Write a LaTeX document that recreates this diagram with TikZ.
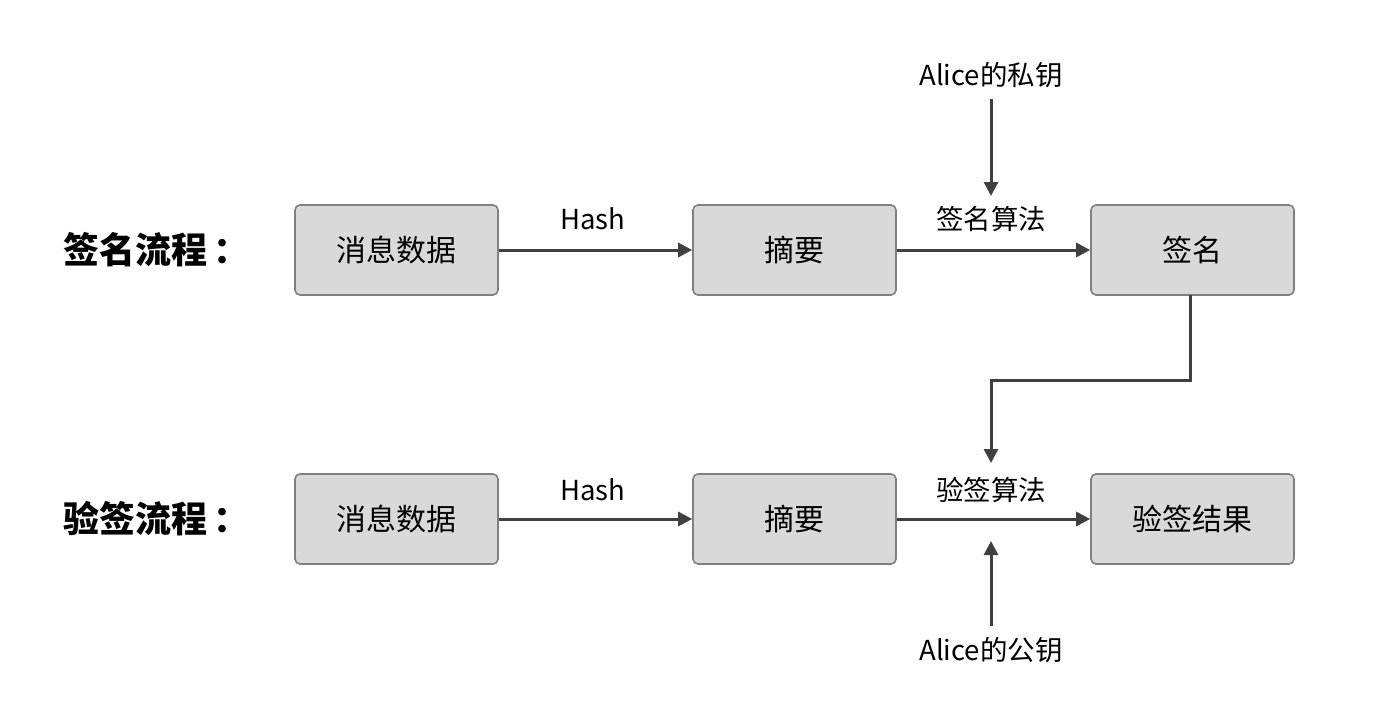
\documentclass[tikz,border=0pt]{standalone}
\usepackage{fontspec}
\setmainfont{Noto Sans CJK SC}
\newfontfamily\cjk{Noto Sans CJK SC}
\usetikzlibrary{arrows.meta}
\definecolor{boxfill}{HTML}{D9D9D9}
\definecolor{boxline}{HTML}{808080}
\definecolor{arr}{HTML}{404040}
\tikzset{
  x=1pt, y=-1pt,
  stepbox/.style={draw=boxline, line width=1.6pt, fill=boxfill, rounded corners=5pt,
    minimum width=203pt, minimum height=90pt, inner sep=0pt, font=\cjk\fontsize{30}{34}\selectfont},
  lbl/.style={font=\cjk\fontsize{27.5}{32}\selectfont, inner sep=1pt},
  ttl/.style={font=\cjk\bfseries\fontsize{36}{42}\selectfont, anchor=west, inner sep=0pt},
  conn/.style={draw=arr, line width=3pt, -{Triangle[length=14pt,width=14pt]}}
}
\begin{document}
\begin{tikzpicture}
\useasboundingbox (0,0) rectangle (1376,728);
% titles
\node[ttl] (t1) at (63,250) {签名流程\,：};
\node[ttl] (t2) at (63,519) {验签流程\,：};
% top row
\node[stepbox] (a1) at (396.5,250) {消息数据};
\node[stepbox] (a2) at (794.5,250) {摘要};
\node[stepbox] (a3) at (1192.5,250) {签名};
% bottom row
\node[stepbox] (b1) at (396.5,519) {消息数据};
\node[stepbox] (b2) at (794.5,519) {摘要};
\node[stepbox] (b3) at (1192.5,519) {验签结果};
% labels
\node[lbl] (h1) at (593,219) {Hash};
\node[lbl] (s1) at (991,219) {签名算法};
\node[lbl] (h2) at (593,490) {Hash};
\node[lbl] (s2) at (991,490) {验签算法};
\node[lbl] (pk) at (991,75) {Alice的私钥};
\node[lbl] (pub) at (991,650) {Alice的公钥};
\coordinate (m1) at (991,196);
\coordinate (m2) at (991,541);
\coordinate (m3) at (991,463);
% connectors
\draw[conn] (pk.south) ++(0,10) -- (m1);
\draw[conn] (pub.north) ++(0,-10) -- (m2);
\draw[conn] (a1.east) -- (a2.west);
\draw[conn] (a2.east) -- (a3.west);
\draw[conn] (b1.east) -- (b2.west);
\draw[conn] (b2.east) -- (b3.west);
\draw[conn] (1190,295) -- (1190,380) -- (991,380) -- (m3);
\end{tikzpicture}
\end{document}
